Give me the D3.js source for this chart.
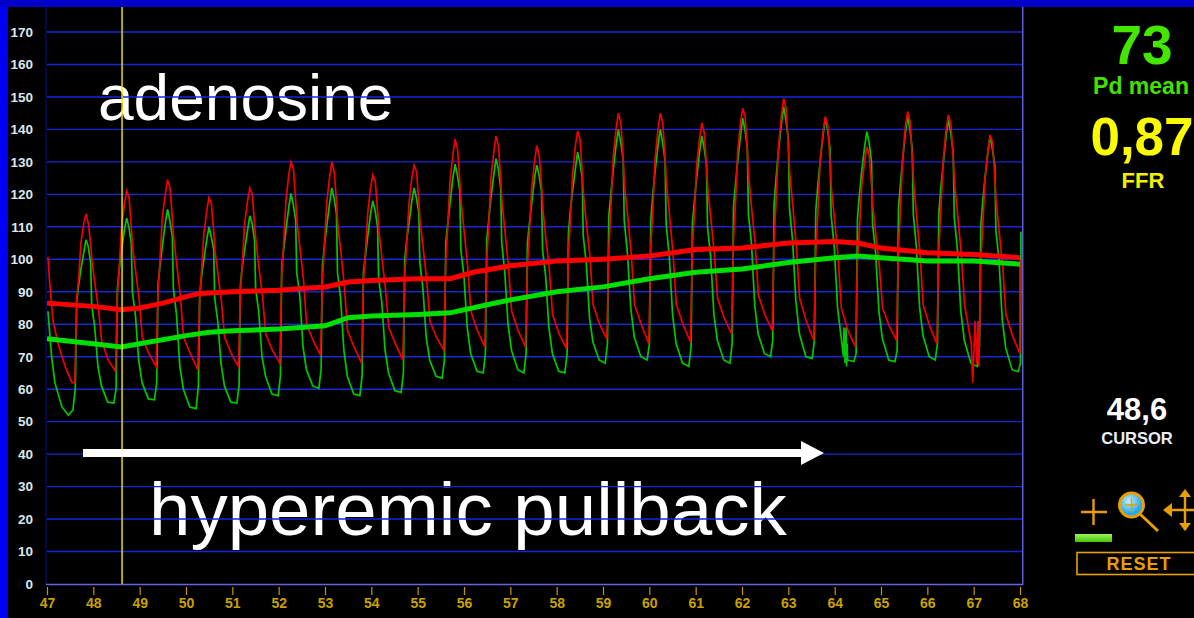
<!DOCTYPE html>
<html><head><meta charset="utf-8">
<script src="https://cdn.jsdelivr.net/npm/d3@7"></script>
<style>html,body{margin:0;padding:0;background:#000;overflow:hidden}svg{display:block}text{font-family:"Liberation Sans",Arial,sans-serif}</style>
</head><body><svg id="c" width="1194" height="618"></svg>
<script>
// Beat start times (s)
const beatStarts=[47.626,48.504,49.381,50.281,51.159,52.051,52.929,53.814,54.706,55.591,56.476,57.354,58.239,59.109,60.016,60.915,61.801,62.677,63.577,64.477,65.362,66.232,67.139];
const beatLengths=[0.878,0.877,0.9,0.878,0.892,0.878,0.885,0.892,0.885,0.885,0.878,0.885,0.87,0.907,0.899,0.886,0.876,0.9,0.9,0.885,0.87,0.907,0.884];
const redPhases=[.017,.065,.12,.19,.245,.305,.365,.39,.47,.55,.63,.79,.97];
const greenPhases=[.017,.065,.12,.19,.245,.3,.36,.385,.46,.54,.625,.78,.93,.985];
const redLead=[[47.02,100.8],[47.06,92.6],[47.13,81],[47.24,74],[47.39,67],[47.54,62],[47.6,62]];
const greenLead=[[47.02,84],[47.1,70],[47.17,62],[47.32,54.6],[47.46,52],[47.56,53.6],[47.61,60]];
const redBeats=[
[88,94,105,111,114,111,104,100,92,85,75,69,65.5],
[89,98,110,117,121,119,109,104,96,88,76,71,67],
[90,100,113,120,124.5,122,112,107,98,89,76,71,66],
[88,97,108,115,119,117,108,103,95,87,76,71,67],
[90,99,111,118,122,120,110,106,97,89,77,72,68],
[95,105,118,126,130,128,117,112,103,94,80,75,70.5],
[93,104,117,125,130,127,117,111,102,92,78,73,68],
[93,102,114,122,126,124,114,109,100,91,79,74,69],
[95,105,117,125,129,127,117,112,103,94,81,76,72],
[99,110,124,132,137,134,123,118,108,98,84,78,73],
[100,110,125,133,138,135,124,118,108,98,84,78,73],
[98,108,122,130,135,132,122,116,106,97,83,77,72.5],
[102,112,126,135,139.5,137,126,120,110,101,86,80,75.5],
[103,115,131,140,145,142,130,123,113,102,86,80,74],
[104,115,131,140,145,142,130,124,113,102,86,80,74.5],
[104,114,129,137,142,139,128,122,112,102,88,82,77],
[106,117,133,142,146.5,144,132,126,115,105,89,83,78],
[106,118,134,144,149.5,146.5,134,127,116,104,88,81,75],
[102,114,130,139,144,141,129,122,112,101,85,78,73],
[99.5,109,122.5,130,134.7,132,122,116.5,107,98,85,79.5,75],
[103.5,115,131,141,145.5,142.5,130.5,124,113,102,86,79.5,74],
[103,115,130,140,144.5,141.5,130,124,113,102,86,74,67],
[99,110,125,133,138.3,136,124,118,108,98,83,76.5,71]];
const greenBeats=[
[87,92,97,102,106,104,99,86,79,67,61,56,55.7,60],
[91,97,103,109,112.7,110,105,90,83,69,62,57,56.7,62],
[92,98,104,111,115.4,112,107,91,83,67,60,54.5,54,61],
[89,95,100,106,110,107,103,88,81,68,61,56,55.7,61],
[92,98,103,109,113.4,111,106,91,84,70,64,58.5,58,64],
[98,103,109,116,120.3,117,112,96,89,73,66,61,60.3,66],
[98,104,110,117,122,119,114,96,88,72,64,58.5,58,64],
[96,101,107,114,118,115,110,94,87,72,65,59.5,59,65],
[100,106,111,118,122,119,114.5,99,91,76,69,64,63.4,69],
[105,111,117,125,129.3,126,121,103,95,79,71,65.5,65,71],
[106,112,119,126,131,128,122,105,96,80,72,66,65,71],
[105,111,117,125,129,126,121,103,95,79,71,65.5,65,71],
[108,115,121,128,133,130,125,107,99,82,74.5,69,68,74],
[113,120,127,135,140,136,131,112,102,85,76,70,69,74],
[112,120,127,135,140,136,130.5,111,101,83,74,68,67,73],
[111,118,125,133,138,134.5,129,110,101,83,75,69,68,74],
[116,123,130,138,143.5,140,134,114,105,86,77,71,70,75],
[117,125,133,141.5,147,143,137,116,106,87,77,70,69.5,75],
[115,122.5,130,138,143.5,140,134,113.5,104,85,76,69,68.5,71],
[112.5,120,127,134.5,139.3,136,130,111,102,84,75.5,69,68.5,72],
[115.5,123,130.5,139,144,140,134,114,104,85.5,76.5,70,69,74],
[114,122,129,138,143,139,133,113,103,84,75,68,67,73],
[110.4,118,125,133,138,134,129,109,100,81.5,72.7,66,65.4,68]];
const redExtra=[[66.98,62],[67.03,81],[67.067,68],[67.095,81],[68.0,100]];
const greenExtra=[[64.19,70],[64.2,79],[64.225,68],[64.246,79],[64.257,67],[64.268,74],[68.02,108.5]];
const redMeanT=[47,48,48.6,49,49.5,50,50.3,51,52,52.5,53,53.5,54,55,55.7,56.2,57,58,59,60,61,62,63,64,64.5,65,66,67,68];
const redMeanV=[86.5,85.5,84.5,85,86.5,88.5,89.5,90,90.5,91,91.5,93,93.5,94,94,96,98,99.5,100,101,103,103.5,105,105.5,105,103.5,102,101.5,100.5];
const greenMeanT=[47,48,48.6,49,50,50.5,51,52,53,53.5,54,55,55.7,56.5,57,58,59,60,61,62,62.5,63,64,64.5,65,66,67,68];
const greenMeanV=[75.5,74,73,74,76.5,77.5,78,78.5,79.5,82,82.5,83,83.5,86,87.5,90,91.5,94,96,97,98,99,100.5,101,100.5,99.5,99.5,98.5];
const yTicks=d3.range(0,171,10);
const xTicks=d3.range(47,69);
const cursorTime=48.62;
const labels={pd:"73",pdName:"Pd mean",ffr:"0,87",ffrName:"FFR",cursor:"48,6",cursorName:"CURSOR",reset:"RESET",top:"adenosine",bottom:"hyperemic pullback"};

const x=d3.scaleLinear().domain([47,68]).range([47,1020]);
const y=d3.scaleLinear().domain([0,170]).range([584,32]);
const svg=d3.select("#c");
const defs=svg.append("defs");
const rg=defs.append("radialGradient").attr("id","lens").attr("cx","40%").attr("cy","35%");
rg.append("stop").attr("offset","0%").attr("stop-color","#c8f0ff");
rg.append("stop").attr("offset","100%").attr("stop-color","#28a8e8");
const bg=defs.append("linearGradient").attr("id","bar").attr("x1",0).attr("x2",0).attr("y1",0).attr("y2",1);
bg.append("stop").attr("offset","0%").attr("stop-color","#a0f060");
bg.append("stop").attr("offset","100%").attr("stop-color","#40c800");
svg.append("rect").attr("width",1194).attr("height",618).attr("fill","#000");
svg.append("rect").attr("width",8).attr("height",618).attr("fill","#0000f5");
svg.append("rect").attr("width",1194).attr("height",7).attr("fill","#0000c8");

// annotation words sit under the grid and cursor
svg.append("text").attr("x",98).attr("y",120).attr("fill","#fff").attr("font-size",64).text(labels.top);
svg.append("text").attr("x",149).attr("y",534.5).attr("fill","#fff").attr("font-size",74.5).text(labels.bottom);

// grid
svg.append("g").selectAll("line").data(yTicks.filter(d=>d>0)).join("line")
 .attr("x1",47).attr("x2",1022).attr("y1",d=>y(d)).attr("y2",d=>y(d)).attr("stroke","#1428d8").attr("stroke-width",1.4);
svg.append("line").attr("x1",46).attr("x2",46).attr("y1",7).attr("y2",585).attr("stroke","#0a0a80").attr("stroke-width",1.2);
svg.append("line").attr("x1",1022.7).attr("x2",1022.7).attr("y1",7).attr("y2",585).attr("stroke","#6060e0").attr("stroke-width",1.5);
svg.append("line").attr("x1",46).attr("x2",1023).attr("y1",584.5).attr("y2",584.5).attr("stroke","#6464e6").attr("stroke-width",1.6);

// axes
const ya=svg.append("g").attr("transform","translate(37,0)").call(d3.axisLeft(y).tickValues(yTicks).tickSize(0).tickPadding(4));
ya.select(".domain").remove();
ya.selectAll("text").attr("fill","#dfe6ea").attr("font-size",13.5).attr("font-weight","bold").style("font-family",'"Liberation Sans",sans-serif');
const xa=svg.append("g").attr("transform","translate(0,587)").call(d3.axisBottom(x).tickValues(xTicks).tickFormat(d3.format("d")).tickSize(8).tickPadding(3));
xa.select(".domain").remove();
xa.selectAll("line").attr("stroke","#c89600").attr("stroke-width",1.2);
xa.selectAll("text").attr("fill","#c8a000").attr("font-size",14).attr("font-weight","bold").style("font-family",'"Liberation Sans",sans-serif');

// traces
function build(lead,phases,beats,extra){
 const pts=lead.slice();
 beats.forEach((row,i)=>{
  row.forEach((v,k)=>pts.push([beatStarts[i]+phases[k]*beatLengths[i],v]));
 });
 return pts.concat(extra).sort((a,b)=>a[0]-b[0]);
}
const line=d3.line().x(d=>x(d[0])).y(d=>y(d[1]));
const zip=(t,v)=>t.map((d,i)=>[d,v[i]]);
const plot=svg.append("g");
plot.append("path").attr("d",line(build(greenLead,greenPhases,greenBeats,greenExtra))).attr("fill","none").attr("stroke","#00c800").attr("stroke-width",1.7);
plot.append("path").attr("d",line(build(redLead,redPhases,redBeats,redExtra))).attr("fill","none").attr("stroke","#f00000").attr("stroke-width",1.7);
plot.append("path").attr("d",line(zip(greenMeanT,greenMeanV))).attr("fill","none").attr("stroke","#00e000").attr("stroke-width",5);
plot.append("path").attr("d",line(zip(redMeanT,redMeanV))).attr("fill","none").attr("stroke","#ff0000").attr("stroke-width",5);

// cursor
svg.append("line").attr("x1",x(cursorTime)).attr("x2",x(cursorTime)).attr("y1",7).attr("y2",584).attr("stroke","#f4f000").attr("stroke-width",1.4);

// arrow
svg.append("rect").attr("x",83).attr("y",449).attr("width",722).attr("height",8).attr("fill","#fff");
svg.append("path").attr("d","M801,441L824,453L801,465Z").attr("fill","#fff");

// right panel
const T=(s,cx,by,size,fill)=>svg.append("text").attr("x",cx).attr("y",by).attr("text-anchor","middle").attr("font-weight","bold").attr("font-size",size).attr("fill",fill).text(s);
T(labels.pd,1142,64,55,"#44e600");
T(labels.pdName,1141,94,23,"#44e000");
T(labels.ffr,1142,155,53,"#fafa00");
T(labels.ffrName,1143,188,22,"#f0f000");
T(labels.cursor,1137,420,31,"#ffffff");
T(labels.cursorName,1137,444,16.5,"#e8eef5");

// controls
const org="#e8a000";
const ctl=svg.append("g").attr("stroke",org).attr("fill","none");
ctl.append("path").attr("d","M1081,512H1107M1093.5,499V525").attr("stroke-width",2.4);
ctl.append("line").attr("x1",1140).attr("y1",514).attr("x2",1158).attr("y2",531).attr("stroke-width",3);
ctl.append("circle").attr("cx",1131.5).attr("cy",505).attr("r",12).attr("fill","url(#lens)").attr("stroke-width",3);
ctl.append("path").attr("d","M1125,505H1138M1131.5,498.5V511.5").attr("stroke-width",1.5);
ctl.append("path").attr("d","M1170,510H1194M1185,494V530").attr("stroke-width",2.4);
ctl.append("path").attr("d","M1163,510L1172,503V517ZM1185,489L1179,497H1191ZM1185,531L1179,523H1191Z").attr("fill",org).attr("stroke","none");
svg.append("rect").attr("x",1075).attr("y",534).attr("width",37).attr("height",8).attr("fill","url(#bar)");
ctl.append("rect").attr("x",1077).attr("y",552.5).attr("width",130).attr("height",22).attr("stroke-width",1.6);
T(labels.reset,1139,570,18,org).attr("letter-spacing",1);
</script></body></html>
